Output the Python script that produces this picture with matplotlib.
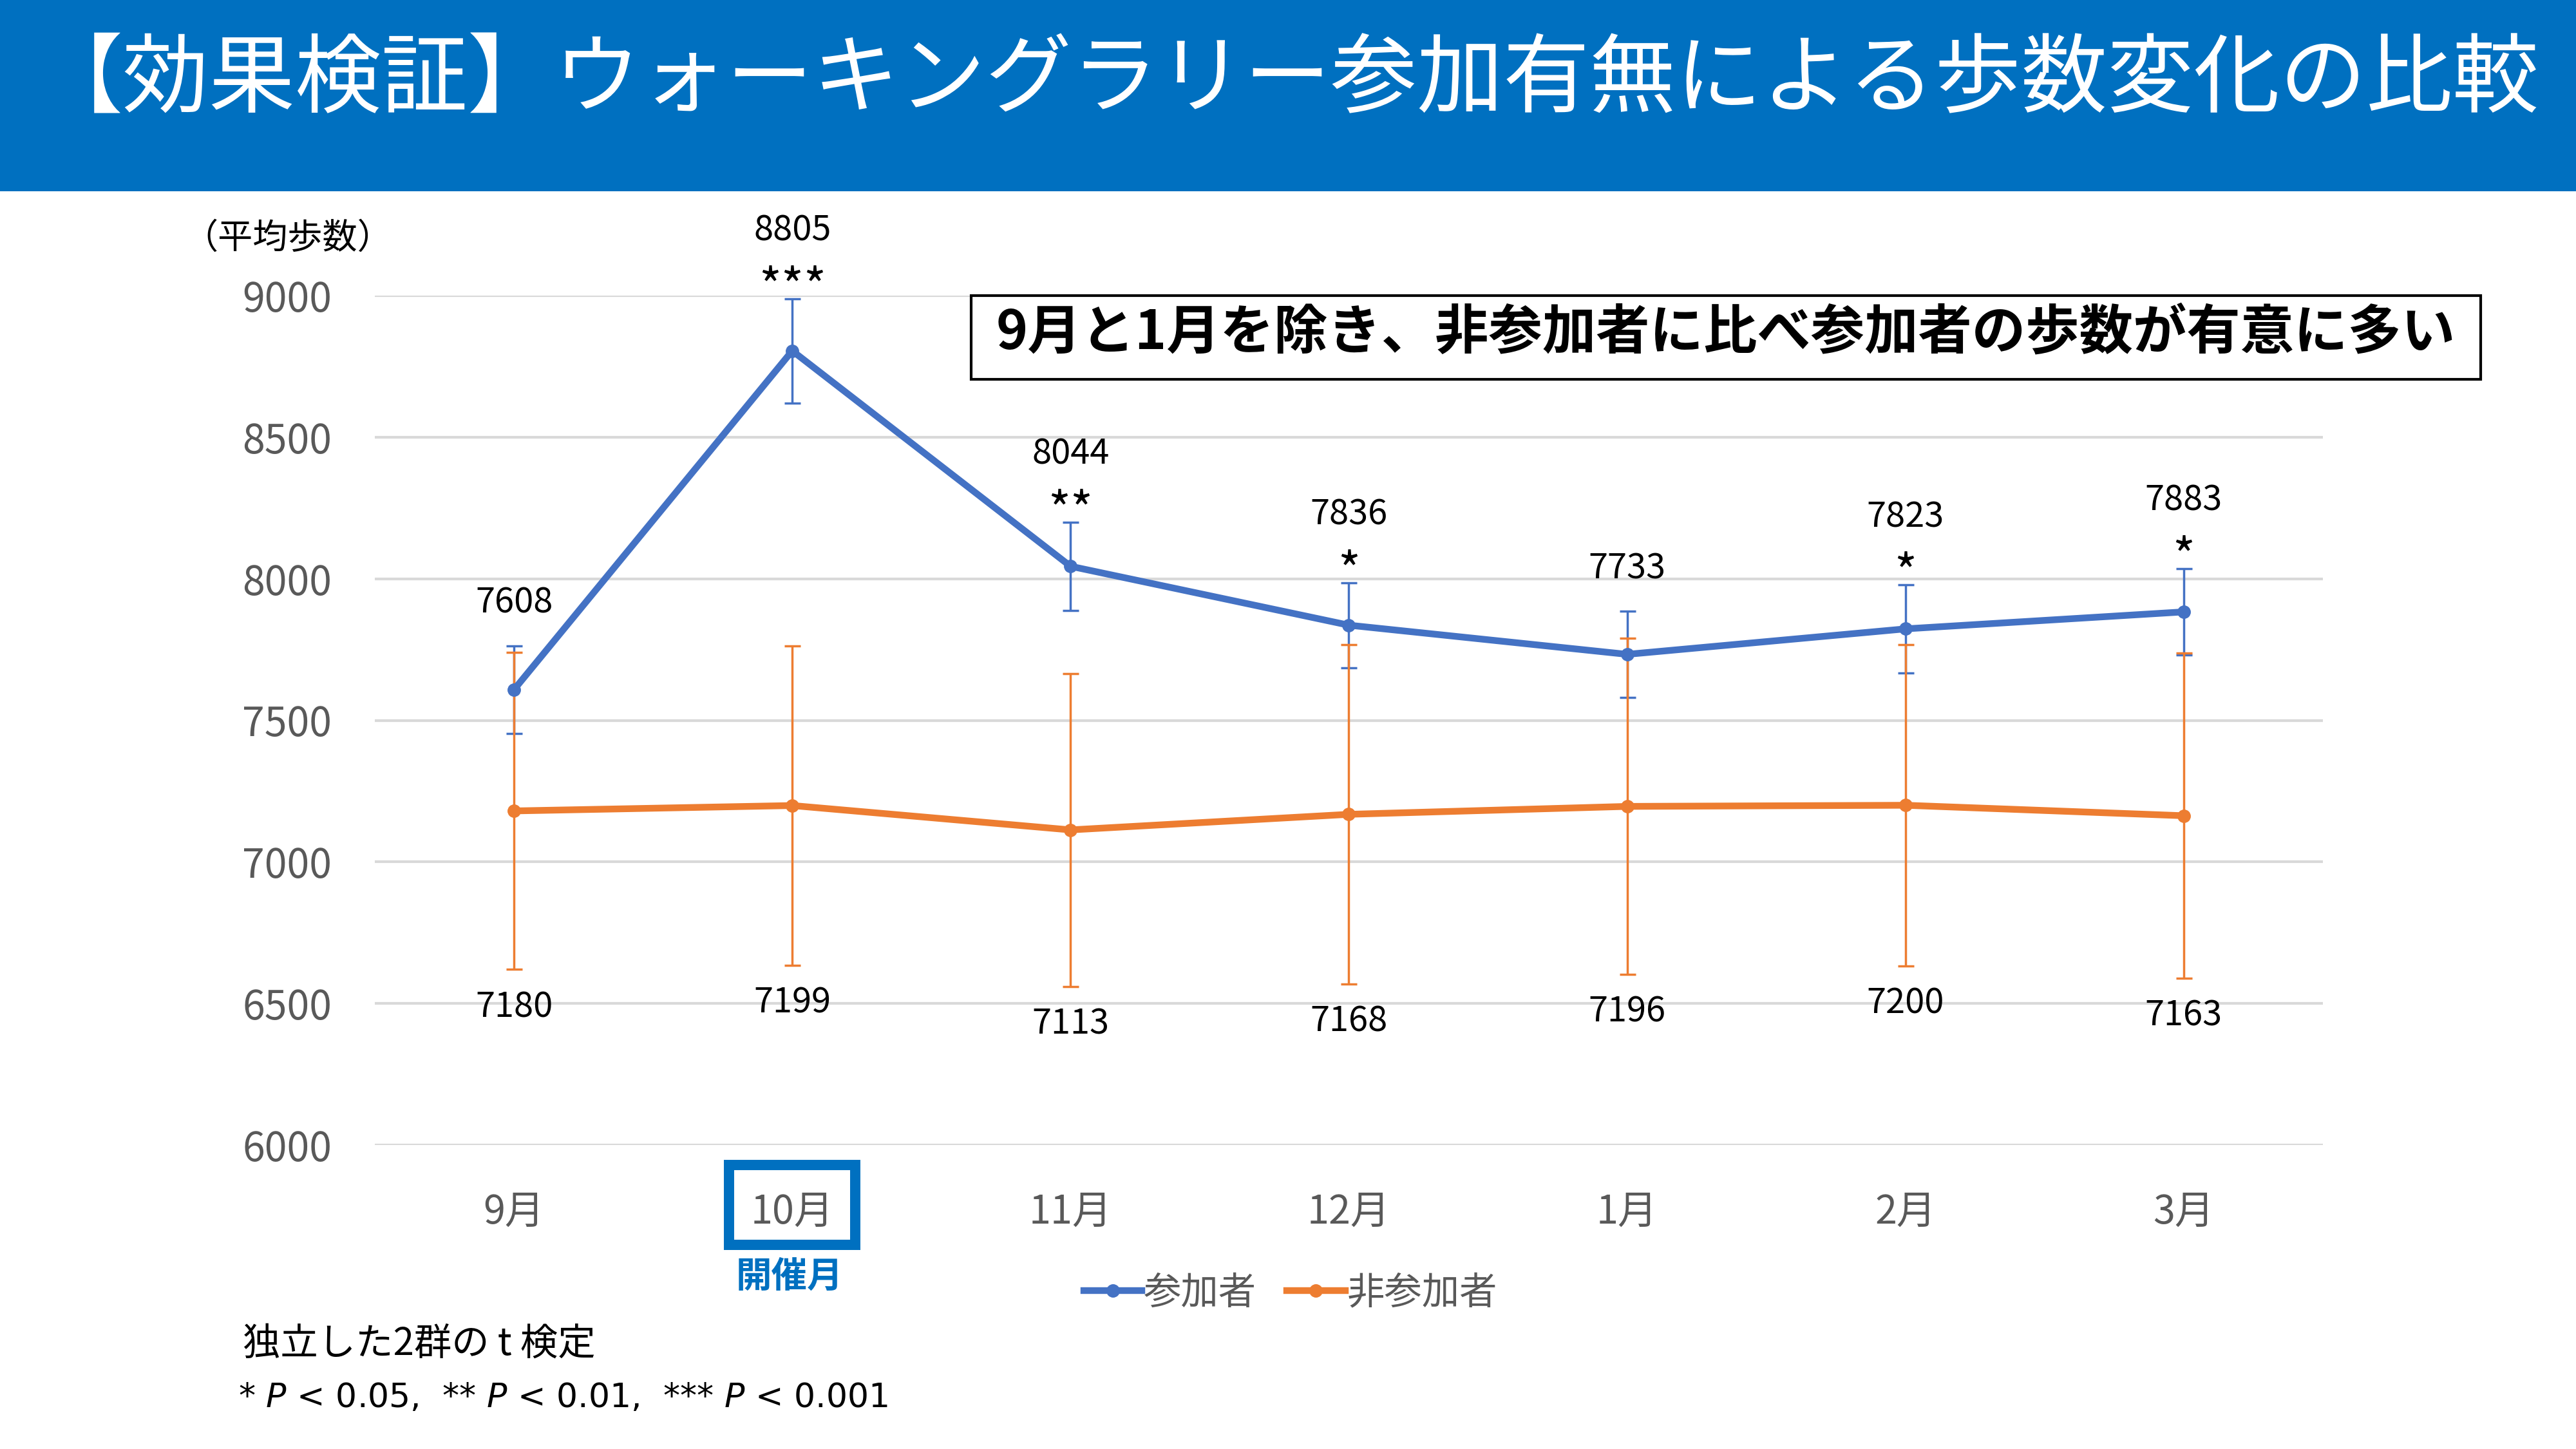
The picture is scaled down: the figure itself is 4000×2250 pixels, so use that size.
import matplotlib
matplotlib.use('Agg')
import matplotlib.pyplot as plt
from matplotlib.patches import Rectangle
import matplotlib.transforms as mtransforms

plt.rcParams['font.family'] = ['Noto Sans CJK JP', 'DejaVu Sans']
plt.rcParams['mathtext.fontset'] = 'dejavusans'

# data
months = ['9月', '10月', '11月', '12月', '1月', '2月', '3月']
participants = [7608, 8805, 8044, 7836, 7733, 7823, 7883]
participants_sd = [155, 184, 156, 150, 152, 155, 153]
nonparticipants = [7180, 7199, 7113, 7168, 7196, 7200, 7163]
nonparticipants_sd = [560, 564, 553, 599, 593, 567, 574]
stars = ['', '***', '**', '*', '', '*', '*']
yticks = [6000, 6500, 7000, 7500, 8000, 8500, 9000]

blue = '#4472C4'
orange = '#ED7D31'
gray = '#595959'
title_blue = '#0070C0'

fig = plt.figure(figsize=(40, 22.5), dpi=100)
fig.patch.set_facecolor('white')

# title bar
fig.patches.append(Rectangle((0, 1 - 297 / 2250), 1, 297 / 2250, transform=fig.transFigure,
                             facecolor=title_blue, edgecolor='none', zorder=0))
fig.text(0.500, 0.944, '【効果検証】ウォーキングラリー参加有無による歩数変化の比較',
         color='white', fontsize=96.5, ha='center', va='center')

ax = fig.add_axes([582 / 4000, 1 - 1778 / 2250, 3025 / 4000, 1319 / 2250])
x = list(range(len(months)))

ax.errorbar(x, participants, yerr=participants_sd, fmt='none', ecolor=blue,
            elinewidth=2.5, capsize=9, capthick=2.5, zorder=2)
ax.errorbar(x, nonparticipants, yerr=nonparticipants_sd, fmt='none', ecolor=orange,
            elinewidth=2.5, capsize=9, capthick=2.5, zorder=2.5)
l2, = ax.plot(x, nonparticipants, color=orange, lw=7.5, marker='o', ms=14, label='非参加者', zorder=3)
l1, = ax.plot(x, participants, color=blue, lw=7.5, marker='o', ms=14, label='参加者', zorder=4)

ax.set_xlim(-0.5, len(months) - 0.5)
ax.set_ylim(6000, 9000)
ax.set_yticks(yticks)
ax.set_xticks(x)
ax.set_xticklabels(months)
ax.tick_params(axis='y', length=0, pad=48, labelsize=45, labelcolor=gray)
ax.tick_params(axis='x', length=0, pad=53, labelsize=44, labelcolor=gray)
for s in ax.spines.values():
    s.set_visible(False)
ax.yaxis.grid(True, color='#D9D9D9', lw=3)
ax.set_axisbelow(True)

# data labels
for i, (v, sd, st) in enumerate(zip(participants, participants_sd, stars)):
    top = v + sd
    if st:
        ax.annotate(st, (i, top), xytext=(0, 10), textcoords='offset points',
                    ha='center', va='center', fontsize=54, annotation_clip=False)
        ax.annotate(str(v), (i, top), xytext=(0, 76), textcoords='offset points',
                    ha='center', va='center', fontsize=39, annotation_clip=False)
    else:
        ax.annotate(str(v), (i, top), xytext=(0, 48), textcoords='offset points',
                    ha='center', va='center', fontsize=39, annotation_clip=False)
for i, (v, sd) in enumerate(zip(nonparticipants, nonparticipants_sd)):
    ax.annotate(str(v), (i, v - sd), xytext=(0, -42), textcoords='offset points',
                ha='center', va='center', fontsize=39, annotation_clip=False)

# 10月 highlight box
trans = mtransforms.blended_transform_factory(ax.transData, ax.transAxes)
ax.add_patch(Rectangle((1 - 0.227, -(1933 - 1778) / 1319), 0.454, (1933 - 1809) / 1319,
                       transform=trans, fill=False, edgecolor=title_blue, lw=11.5, clip_on=False))
fig.text(1226 / 4000, 1 - 1983 / 2250, '開催月', color=title_blue, fontsize=40,
         fontweight='bold', ha='center', va='center')

# y label
fig.text(284 / 4000, 1 - 370 / 2250, '（平均歩数）', fontsize=39, ha='left', va='center')

# note box
fig.patches.append(Rectangle((1508 / 4000, 1 - 589 / 2250), (3852 - 1508) / 4000, 130 / 2250,
                             transform=fig.transFigure, facecolor='white', edgecolor='black',
                             lw=3, zorder=5))
fig.text(2680 / 4000, 1 - 517 / 2250, '9月と1月を除き、非参加者に比べ参加者の歩数が有意に多い',
         fontsize=60, fontweight='bold', ha='center', va='center', zorder=6)

# legend
fig.legend(handles=[l1, l2], loc='center', bbox_to_anchor=(0.501, 1 - 2008 / 2250),
           ncol=2, frameon=False, fontsize=42, labelcolor=gray, handlelength=1.55,
           handletextpad=0.05, columnspacing=0.8)

# footnotes
fig.text(377 / 4000, 1 - 2087 / 2250, '独立した2群の t 検定', fontsize=42, ha='left', va='center')
fig.text(370 / 4000, 1 - 2171 / 2250,
         r'* $\mathit{P}$ < 0.05,  ** $\mathit{P}$ < 0.01,  *** $\mathit{P}$ < 0.001',
         fontsize=37.5, ha='left', va='center', family='DejaVu Sans')

fig.savefig('out.png', dpi=100)
